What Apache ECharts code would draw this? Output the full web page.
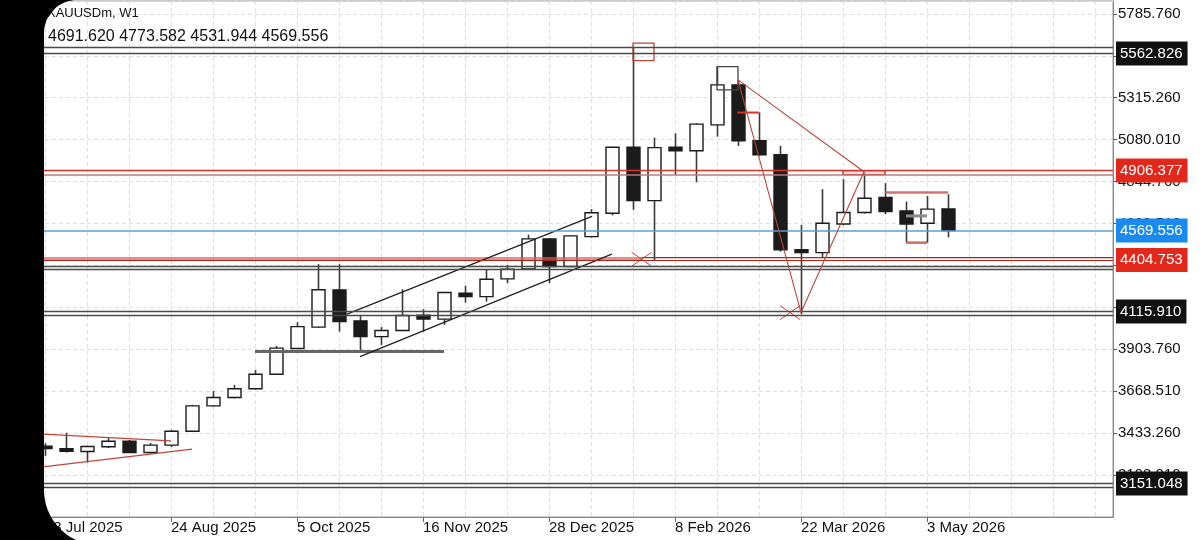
<!DOCTYPE html>
<html><head><meta charset="utf-8">
<script src="https://cdn.jsdelivr.net/npm/echarts@6/dist/echarts.min.js"></script>
<style>html,body{margin:0;padding:0;background:#fff;overflow:hidden}#c{width:1200px;height:540px}</style>
</head><body><div id="c"></div>
<script>
// ---------------- data ----------------
const symbolTitle = 'XAUUSDm, W1';
const ohlcHeader = '4691.620 4773.582 4531.944 4569.556';
// week index 0 = week of 13 Jul 2025
const weekIndex = [0,1,2,3,4,5,6,7,8,9,10,11,12,13,14,15,16,17,18,19,20,21,22,23,24,25,26,27,28,29,30,31,32,33,34,35,36,37,38,39,40,41,42,43];
const opens  = [3360,3346,3330,3357,3388,3325,3366,3444,3586,3633,3682,3764,3908,4028,4237,4063,3975,4009,4095,4073,4218,4199,4299,4355,4523,4368,4536,4667,5037,4738,5037,5018,5163,5387,5074,4995,4462,4446,4607,4671,4755,4680,4611,4691.620];
const highs  = [3377,3436,3362,3408,3395,3378,3452,3592,3670,3704,3788,3922,4056,4381,4381,4097,4028,4241,4129,4226,4260,4353,4377,4547,4525,4545,4690,5040,5596,5091,5116,5172,5490,5415,5232,5045,4602,4802,4858,4900,4836,4732,4764,4773.582];
const lows   = [3306,3324,3268,3350,3322,3318,3355,3440,3582,3628,3678,3760,3905,4024,4003,3891,3928,4005,4003,4041,4166,4171,4275,4352,4275,4365,4530,4655,4686,4404.753,4882,4841,5097,5044,4990,4452,4100,4415,4600,4665,4662,4502,4502,4531.944];
const closes = [3347,3332,3358,3388,3325,3366,3444,3586,3633,3682,3764,3910,4031,4238,4059,3975,4009,4093,4073,4222,4199,4297,4353,4523,4368,4540,4670,5037,4738,5035,5018,5167,5387,5074,4995,4462,4446,4611,4671,4751,4676,4607,4690,4569.556];
const xTickIdx  = [0,6,12,18,24,30,36,42];
const xTickText = ['13 Jul 2025','24 Aug 2025','5 Oct 2025','16 Nov 2025','28 Dec 2025','8 Feb 2026','22 Mar 2026','3 May 2026'];
const yMin = 2962.76, yMax = 5857.76, yStep = 235.25;
const xMin = -2, xMax = 50.857142857, xGridStep = 2;
// horizontal levels
const grayLevels = [5597, 5562.826, 4367.8, 4355, 4115.91, 4095, 3151.048, 3129];
const redLevels = [4906.377];
const roseLevels = [4882];
const blueLevels = [4569.556];
const darkRedLevels = [4404.753];
const taggedPrices = [5562.826, 4906.377, 4569.556, 4404.753, 4115.91, 3151.048];
// drawn objects in (week index, price)
const triangleLeft = [[-1,3433.6,6,3389.9],[-1,3231.7,7,3343.3]];
const supportSeg = [[10,3890.9,19,3890.9]];
const channel = [[14.38,4100.7,26.05,4649.4],[15,3862.8,26.99,4437.3]];
const pinkSeg = [[-2,4411,28.4,4411]];
const darkRedSeg = [[28.4,4418,50.86,4418]];
const redTick = [[32.97,5232,34,5232]];
const upperBracket = [[40,4783,43,4783],[41,4502,42,4502]];
const midSeg = [[41,4652,42,4652]];
const peakBox = [[28,5523.6,29,5621.1]];
const topBox = [[32,5359,33,5490]];
const thinRedBox = [[38,4884,40,4906.4]];
const zigzag = [[33,5415],[36,4109.7],[39,4900],[33,5415]];
const crossMarks = [[28.41,4409],[35.48,4109.7]];

// ---------------- chart ----------------
const FONT = 'Liberation Sans';
const chart = echarts.init(document.getElementById('c'), null, {renderer:'canvas', width:1200, height:540});
const candleData = weekIndex.map((x,i)=>[x, opens[i], closes[i], lows[i], highs[i]]);

function renderCandle(params, api){
  const x=api.value(0), o=api.value(1), c=api.value(2), l=api.value(3), h=api.value(4);
  const pO=api.coord([x,o]), pC=api.coord([x,c]), pL=api.coord([x,l]), pH=api.coord([x,h]);
  const cx=Math.round(pO[0])+0.5, w=13;
  let top=Math.min(pO[1],pC[1]), bot=Math.max(pO[1],pC[1]);
  if (bot-top<2.5){const m=(top+bot)/2; top=m-1.25; bot=m+1.25;}
  const bull=c>=o;
  return {type:'group', children:[
    {type:'line', shape:{x1:cx,y1:pH[1],x2:cx,y2:top}, style:{stroke:'#3a3a3a',lineWidth:1.6}},
    {type:'line', shape:{x1:cx,y1:bot,x2:cx,y2:pL[1]}, style:{stroke:'#3a3a3a',lineWidth:1.6}},
    {type:'rect', shape:{x:cx-w/2,y:top,width:w,height:bot-top}, style:{fill:bull?'#fcfcfc':'#1b1b1b', stroke:'#1b1b1b', lineWidth:1.4}}
  ]};
}
function segSeries(data, color, width, z){
  return {type:'custom', silent:true, clip:true, z:z||4, data, encode:{x:[0,2], y:[1,3]},
    renderItem:(p,api)=>{const a=api.coord([api.value(0),api.value(1)]), b=api.coord([api.value(2),api.value(3)]);
      return {type:'line', shape:{x1:a[0],y1:a[1],x2:b[0],y2:b[1]}, style:{stroke:color,lineWidth:width}};}};
}
function boxSeries(data, color, width, fill){
  return {type:'custom', silent:true, clip:true, z:4, data, encode:{x:[0,2], y:[1,3]},
    renderItem:(p,api)=>{const a=api.coord([api.value(0),api.value(1)]), b=api.coord([api.value(2),api.value(3)]);
      return {type:'rect', shape:{x:Math.min(a[0],b[0]),y:Math.min(a[1],b[1]),width:Math.abs(b[0]-a[0]),height:Math.abs(b[1]-a[1])}, style:{fill:fill||'none',stroke:color,lineWidth:width}};}};
}
const tagBg = {'5562.826':'#111111','4906.377':'#e2281b','4569.556':'#1b8af0','4404.753':'#e2281b','4115.910':'#111111','3151.048':'#111111'};
function level(price, color, width){
  const key = price.toFixed(3);
  const tagged = taggedPrices.some(t=>Math.abs(t-price)<1e-6);
  return {yAxis: price, lineStyle:{color, width, type:'solid'},
    label: tagged ? {show:true, position:'end', distance:3, formatter:key, color:'#fff', backgroundColor:tagBg[key],
      padding:[4,5,3,4], fontSize:15, fontFamily:FONT, lineHeight:17} : {show:false}};
}
const levelData = [].concat(
  grayLevels.map(p=>level(p,'#4a4a4a',1.4)),
  redLevels.map(p=>level(p,'#d2362a',1.3)),
  roseLevels.map(p=>level(p,'#c07a78',1.6)),
  blueLevels.map(p=>level(p,'#5d9fd3',1.6)),
  darkRedLevels.map(p=>level(p,'#b02418',1.2))
);

// phone-screen bezel outline (decoration): black area left of a rounded screen edge
function arcPts(cx, cy, r, a0, a1, n){const pts=[];for(let k=0;k<=n;k++){const a=a0+(a1-a0)*k/n;pts.push([cx+r*Math.cos(a), cy+r*Math.sin(a)]);}return pts;}
const bezelPts = [[0,0]].concat(
  arcPts(77,33,33,-Math.PI/2,-Math.PI,24),
  arcPts(99,490,55,Math.PI,Math.PI/2,30),
  [[0,545]]
);
const gridDash = {color:'#dedede', type:[4,3], width:1};

const option = {
  animation:false,
  backgroundColor:'#ffffff',
  grid:{left:3, top:1, width:1110, height:516, show:true, borderColor:'#999', borderWidth:1, backgroundColor:'#fff'},
  xAxis:[
    {type:'value', min:xMin, max:xMax, interval:xGridStep,
      axisLine:{show:true, onZero:false, lineStyle:{color:'#888'}},
      axisTick:{show:true, length:5, customValues:xTickIdx, lineStyle:{color:'#666'}},
      axisLabel:{show:true, customValues:xTickIdx, align:'left', margin:3, fontSize:15, fontFamily:FONT, color:'#111',
        formatter:v=>{const k=xTickIdx.indexOf(Math.round(v)); return k>=0?xTickText[k]:'';}},
      splitLine:{show:false}},
    {type:'value', min:xMin, max:xMax, interval:xGridStep, position:'bottom',
      axisLine:{show:false, onZero:false}, axisTick:{show:false}, axisLabel:{show:false},
      splitLine:{show:true, lineStyle:gridDash}}
  ],
  yAxis:{type:'value', position:'right', min:yMin, max:yMax, interval:yStep,
    axisLine:{show:true, onZero:false, lineStyle:{color:'#888'}},
    axisTick:{show:true, length:4, lineStyle:{color:'#555'}},
    axisLabel:{margin:5, color:'#111', fontSize:15, fontFamily:FONT, formatter:v=>v.toFixed(3), showMinLabel:false, showMaxLabel:false},
    splitLine:{show:true, lineStyle:gridDash}},
  series:[
    {type:'custom', name:'XAUUSDm', z:2, clip:true, data:candleData, encode:{x:0, y:[1,2,3,4]}, renderItem:renderCandle},
    segSeries(pinkSeg,'rgba(205,100,90,0.7)',3.6,3),
    segSeries(darkRedSeg,'#b02418',1.2),
    segSeries(triangleLeft,'#c0463a',1.2),
    segSeries(supportSeg,'#666666',3),
    segSeries(channel,'#1f1f1f',1.2),
    segSeries(redTick,'#e0301e',2),
    segSeries(upperBracket,'rgba(200,90,85,0.85)',2.6),
    segSeries(midSeg,'#8a8a8a',3),
    boxSeries(peakBox,'#b5473a',1.3),
    boxSeries(topBox,'#444444',1.3),
    boxSeries(thinRedBox,'#a8281c',1.3,'rgba(230,200,200,0.6)'),
    {type:'custom', silent:true, clip:true, z:4, data:crossMarks, encode:{x:0,y:1},
      renderItem:(p,api)=>{const c=api.coord([api.value(0),api.value(1)]);
        return {type:'group', children:[
          {type:'line', shape:{x1:c[0]-10,y1:c[1]-7,x2:c[0]+10,y2:c[1]+7}, style:{stroke:'#c0463a',lineWidth:1}},
          {type:'line', shape:{x1:c[0]-10,y1:c[1]+7,x2:c[0]+10,y2:c[1]-7}, style:{stroke:'#c0463a',lineWidth:1}}]};}},
    {type:'line', z:5, data:zigzag, symbol:'none', silent:true, lineStyle:{color:'#b5473a', width:1.1},
      markLine:{silent:true, symbol:['none','none'], animation:false, precision:3, emphasis:{disabled:true}, data:levelData}}
  ],
  graphic:[
    {type:'polygon', z:100, silent:true, shape:{points:bezelPts}, style:{fill:'#000'}},
    {type:'text', z:101, left:47, top:7, style:{text:symbolTitle, fontSize:13, fontFamily:FONT, fill:'#111'}},
    {type:'text', z:101, left:48, top:29, style:{text:ohlcHeader, fontSize:16, fontFamily:FONT, fill:'#111'}}
  ]
};
chart.setOption(option);
</script>
</body></html>
